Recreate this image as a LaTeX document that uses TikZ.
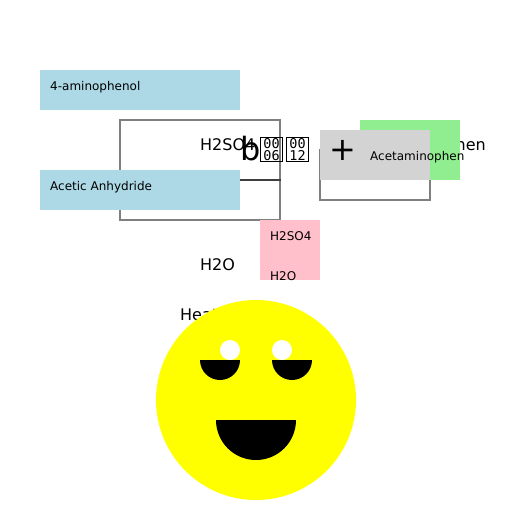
\documentclass[tikz,border=0pt]{standalone}
\usepackage{fontspec}
\setmainfont{DejaVu Sans}
\setmonofont{DejaVu Sans Mono}
\usetikzlibrary{positioning}
\definecolor{lightblue}{HTML}{ADD8E6}
\definecolor{lightgreen}{HTML}{90EE90}
\definecolor{lightgray2}{HTML}{D3D3D3}
\definecolor{lightpink}{HTML}{FFC0CB}
\definecolor{faceyellow}{RGB}{255,255,0}
\tikzset{
  lbl/.style={anchor=base west, inner sep=0pt, font=\fontsize{12}{14}\selectfont},
  biglbl/.style={lbl, font=\fontsize{16}{19}\selectfont},
  hugelbl/.style={lbl, font=\fontsize{32}{38}\selectfont},
  blk/.style={anchor=north west, inner sep=0pt, outer sep=0pt},
  frame/.style={blk, draw=black, draw opacity=.5, line width=2pt},
  hexbox/.style={draw=black, line width=1pt, inner sep=0pt, minimum width=22pt, minimum height=24.5pt,
                 align=center, font=\ttfamily\fontsize{13.5}{11.5}\selectfont},
  disc/.style={circle, inner sep=0pt, outer sep=0pt},
  halfdisc/.style={fill=black},
}
\begin{document}
\begin{tikzpicture}[x=1pt, y=-1pt]
  \useasboundingbox (0,0) rectangle (512,512);
  % texts lying under the boxes
  \node[biglbl](sulfbig) at (200,150) {H2SO4};
  \node[biglbl](waterbig) at (200,270) {H2O};
  \node[biglbl](heat) at (180,320) {Heat};
  \node[biglbl](acetbig) at (360,150) {Acetaminophen};
  \node[hugelbl](bchar) at (240,160) {b};
  \node[hexbox](hexa) at (271.5,149.5) {00\\06};
  \node[hexbox, right=3pt of hexa](hexb) {00\\12};
  % reactor frames
  \node[frame, minimum width=160pt, minimum height=60pt](upper) at (120,120) {};
  \node[frame, minimum width=160pt, minimum height=40pt](lower) at (120,180) {};
  \node[frame, minimum width=110pt, minimum height=50pt](outlet) at (320,150) {};
  % coloured boxes
  \node[blk, fill=lightblue, minimum width=200pt, minimum height=40pt](amino) at (40,70) {};
  \node[blk, fill=lightblue, minimum width=200pt, minimum height=40pt](anhyd) at (40,170) {};
  \node[blk, fill=lightgreen, minimum width=100pt, minimum height=60pt](prod) at (360,120) {};
  \node[blk, fill=lightgray2, minimum width=110pt, minimum height=50pt](plusbox) at (320,130) {};
  \node[blk, fill=lightpink, minimum width=60pt, minimum height=60pt](cat) at (260,220) {};
  % labels on the boxes
  \node[lbl](aminotxt) at (50,90) {4-aminophenol};
  \node[lbl](anhydtxt) at (50,190) {Acetic Anhydride};
  \node[lbl](prodtxt) at (370,160) {Acetaminophen};
  \node[lbl](sulftxt) at (270,240) {H2SO4};
  \node[lbl](watertxt) at (270,280) {H2O};
  \node[hugelbl](plus) at (329,160) {+};
  % smiley
  \node[disc, fill=faceyellow, minimum size=200pt](face) at (256,400) {};
  \node[disc, fill=white, minimum size=20pt](eyel) at (230,350) {};
  \node[disc, fill=white, minimum size=20pt](eyer) at (282,350) {};
  \fill[halfdisc] (200,360) arc[start angle=180, end angle=360, radius=20pt] -- cycle;
  \fill[halfdisc] (272,360) arc[start angle=180, end angle=360, radius=20pt] -- cycle;
  \fill[halfdisc] (216,420) arc[start angle=180, end angle=360, radius=40pt] -- cycle;
\end{tikzpicture}
\end{document}
